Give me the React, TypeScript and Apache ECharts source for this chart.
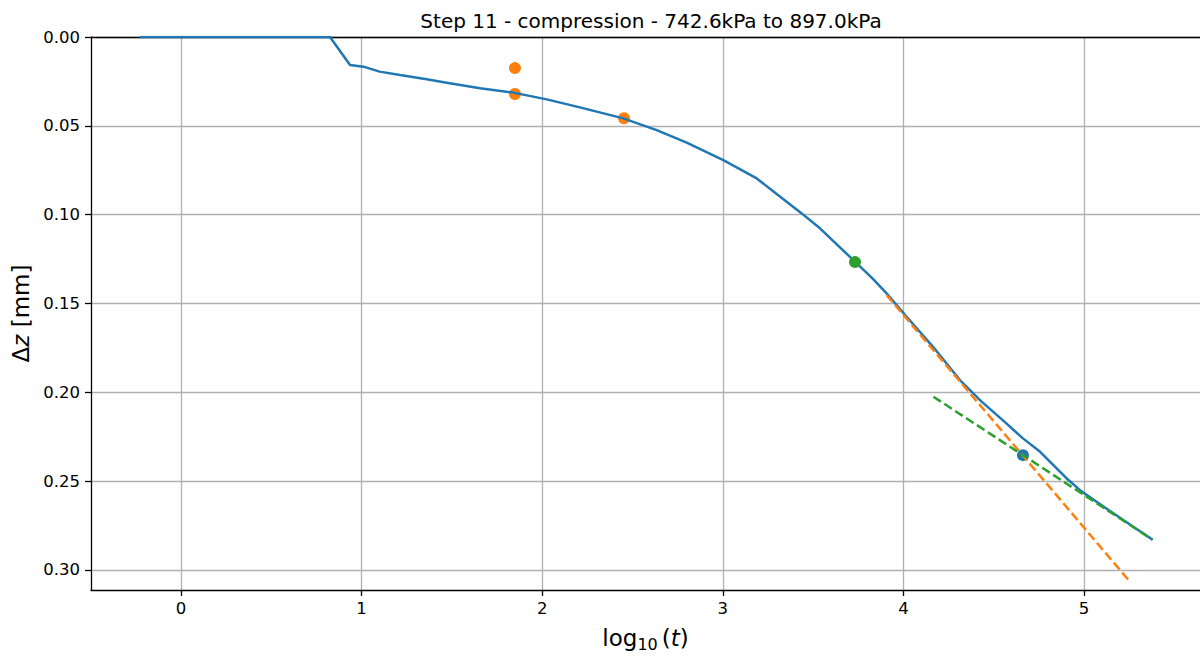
import React, { useEffect, useRef } from "react";
import * as echarts from "echarts";

// ---- data ----
const curveLogT = [
  -0.227, 0.825, 0.936, 1.01, 1.1, 1.213, 1.36, 1.471, 1.656, 1.84, 2.025, 2.209,
  2.449, 2.634, 2.8, 3.003, 3.188, 3.3, 3.437, 3.538, 3.732, 3.83, 3.907, 4.018,
  4.164, 4.313, 4.424, 4.57, 4.66, 4.757, 4.904, 4.978, 5.16, 5.38,
];
const curveDz = [
  0.0, 0.0, 0.0158, 0.0167, 0.0195, 0.0214, 0.0238, 0.0257, 0.0289, 0.0313, 0.0351, 0.0396,
  0.0458, 0.0524, 0.0595, 0.0693, 0.0796, 0.0885, 0.0993, 0.1077, 0.1265, 0.136, 0.1443, 0.1575,
  0.1744, 0.1931, 0.2044, 0.2175, 0.2258, 0.2335, 0.2485, 0.2551, 0.268, 0.283,
];
const orangeLogT = [1.849, 1.849, 2.453];
const orangeDz = [0.0175, 0.0321, 0.0457];
const greenLogT = [3.732];
const greenDz = [0.1267];
const blueLogT = [4.662];
const blueDz = [0.2354];
const tangentALogT = [3.907, 5.255];
const tangentADz = [0.1453, 0.3067];
const tangentBLogT = [4.166, 5.38];
const tangentBDz = [0.2025, 0.283];
const xTicks = [0, 1, 2, 3, 4, 5];
const yTicks = [0, 0.05, 0.1, 0.15, 0.2, 0.25, 0.3];

const pair = (xs: number[], ys: number[]) => xs.map((x, i) => [x, ys[i]]);

const FONT = "DejaVu Sans";
const BLUE = "#1f77b4";
const ORANGE = "#ff7f0e";
const GREEN = "#2ca02c";
const X_MIN = -0.4983;
const X_MAX = 5.6423;

export default function App() {
  const ref = useRef<HTMLDivElement>(null);
  useEffect(() => {
    if (!ref.current) return;
    const chart = echarts.init(ref.current, undefined, { renderer: "svg" });
    const option: any = {
      animation: false,
      backgroundColor: "#ffffff",
      title: {
        text: "Step 11 - compression - 742.6kPa to 897.0kPa",
        left: 646,
        top: 6,
        textAlign: "center",
        textStyle: { fontFamily: FONT, fontSize: 20, fontWeight: "normal", color: "#000" },
      },
      grid: {
        left: 91,
        right: 0,
        top: 37,
        bottom: 67,
        show: false,
      },
      xAxis: [
        {
          type: "value",
          min: X_MIN,
          max: X_MAX,
          name: "{a|log}{s|10}{p|(}{i|t}{a|)}",
          nameLocation: "middle",
          nameGap: 34,
          nameTextStyle: {
            rich: {
              a: { fontFamily: FONT, fontSize: 23, color: "#000" },
              p: { fontFamily: FONT, fontSize: 23, color: "#000", padding: [0, 0, 0, 4] },
              s: { fontFamily: FONT, fontSize: 16, color: "#000", padding: [12, 0, 0, 0] },
              i: { fontFamily: FONT, fontSize: 23, fontStyle: "italic", color: "#000" },
            },
          },
          axisLine: { show: true, onZero: false, lineStyle: { color: "#000", width: 1.3 } },
          axisTick: { show: true, length: 6, customValues: xTicks, lineStyle: { color: "#000", width: 1.3 } },
          axisLabel: {
            customValues: xTicks,
            margin: 10,
            fontFamily: FONT,
            fontSize: 16.5,
            color: "#000",
            formatter: (v: number) => String(Math.round(v)),
          },
          splitLine: { show: true, lineStyle: { color: "#b0b0b0", width: 1.3 } },
        },
        {
          type: "value",
          position: "top",
          min: X_MIN,
          max: X_MAX,
          axisLine: { show: true, onZero: false, lineStyle: { color: "#000", width: 1.3 } },
          axisTick: { show: false },
          axisLabel: { show: false },
          splitLine: { show: false },
        },
      ],
      yAxis: {
        type: "value",
        inverse: true,
        min: 0,
        max: 0.3113,
        interval: 0.05,
        name: "{a|Δ}{i|z}{a| [mm]}",
        nameLocation: "middle",
        nameGap: 51,
        nameTextStyle: {
          rich: {
            a: { fontFamily: FONT, fontSize: 23, color: "#000" },
            i: { fontFamily: FONT, fontSize: 23, fontStyle: "italic", color: "#000" },
          },
        },
        axisLine: { show: true, onZero: false, lineStyle: { color: "#000", width: 1.3 } },
        axisTick: { show: true, length: 6, customValues: yTicks, lineStyle: { color: "#000", width: 1.3 } },
        axisLabel: {
          customValues: yTicks,
          margin: 11,
          fontFamily: FONT,
          fontSize: 16.5,
          color: "#000",
          formatter: (v: number) => v.toFixed(2),
        },
        splitLine: { show: true, lineStyle: { color: "#b0b0b0", width: 1.3 } },
      },
      series: [
        {
          type: "scatter",
          data: pair(orangeLogT, orangeDz),
          symbolSize: 12,
          itemStyle: { color: ORANGE, opacity: 1 },
          z: 2,
        },
        {
          type: "line",
          data: pair(curveLogT, curveDz),
          showSymbol: false,
          symbol: "none",
          lineStyle: { color: BLUE, width: 2.5 },
          z: 3,
        },
        {
          type: "scatter",
          data: pair(greenLogT, greenDz),
          symbolSize: 12,
          itemStyle: { color: GREEN, opacity: 1 },
          z: 4,
        },
        {
          type: "scatter",
          data: pair(blueLogT, blueDz),
          symbolSize: 12,
          itemStyle: { color: BLUE, opacity: 1 },
          z: 4,
        },
        {
          type: "line",
          data: pair(tangentALogT, tangentADz),
          showSymbol: false,
          symbol: "none",
          lineStyle: { color: ORANGE, width: 2.5, type: [9, 4] },
          z: 5,
        },
        {
          type: "line",
          data: pair(tangentBLogT, tangentBDz),
          showSymbol: false,
          symbol: "none",
          lineStyle: { color: GREEN, width: 2.5, type: [9, 4] },
          z: 5,
        },
      ],
    };
    chart.setOption(option);
    return () => chart.dispose();
  }, []);
  return (
    <div
      ref={ref}
      style={{ position: "fixed", left: 0, top: 0, width: 1200, height: 657, background: "#fff" }}
    />
  );
}
